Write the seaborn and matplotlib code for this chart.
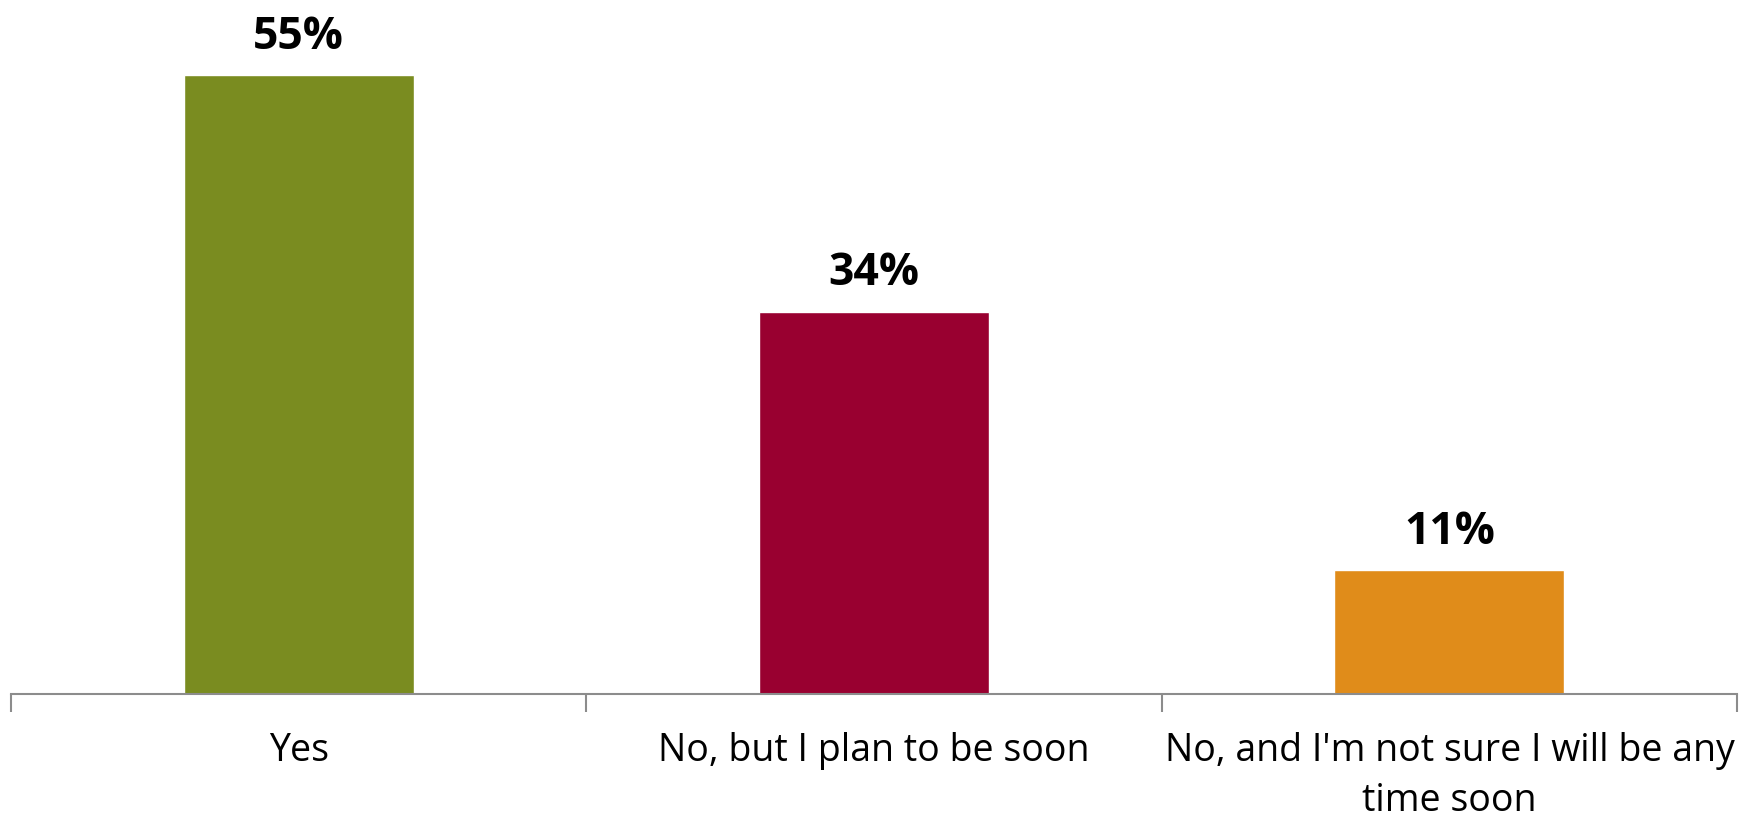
import matplotlib
matplotlib.use("Agg")
import matplotlib.pyplot as plt
import seaborn as sns
import pandas as pd

categories = ["Yes", "No, but I plan to be soon",
              "No, and I'm not sure I will be any\ntime soon"]
values = [55, 34, 11]
colors = ["#7A8C20", "#990030", "#E08C1A"]

sns.set_theme(style="white")
plt.rcParams["font.family"] = ["Open Sans", "DejaVu Sans"]

df = pd.DataFrame({"category": categories, "value": values})

fig = plt.figure(figsize=(17.39, 8.19), dpi=100)
ax = fig.add_axes([0.0063, 0.1526, 0.9926, 0.8242])

sns.barplot(data=df, x="category", y="value", hue="category",
            palette=colors, width=0.4, legend=False, ax=ax, saturation=1)

# percentage labels above bars
for cont in ax.containers:
    ax.bar_label(cont, labels=[f"{v:.0f}%" for v in cont.datavalues],
                 padding=11, fontsize=32, fontweight="bold", color="black")

ax.set_xlim(-0.5, 2.5)
ax.set_ylim(0, 60)
ax.set_xlabel("")
ax.set_ylabel("")
ax.set_yticks([])

for side in ["left", "right", "top"]:
    ax.spines[side].set_visible(False)
ax.spines["bottom"].set_color("#8C8C8C")
ax.spines["bottom"].set_linewidth(1.5)

# tick marks between categories
ax.set_xticks([-0.5, 0.5, 1.5, 2.5], minor=True)
ax.tick_params(axis="x", which="minor", bottom=True, length=13, width=1.5,
               color="#8C8C8C", direction="out")
ax.tick_params(axis="x", which="major", bottom=False, labelsize=27, pad=21,
               labelcolor="black")
for lbl in ax.get_xticklabels():
    lbl.set_linespacing(1.42)
    lbl.set_verticalalignment("top")

fig.savefig("out.png", dpi=100)
